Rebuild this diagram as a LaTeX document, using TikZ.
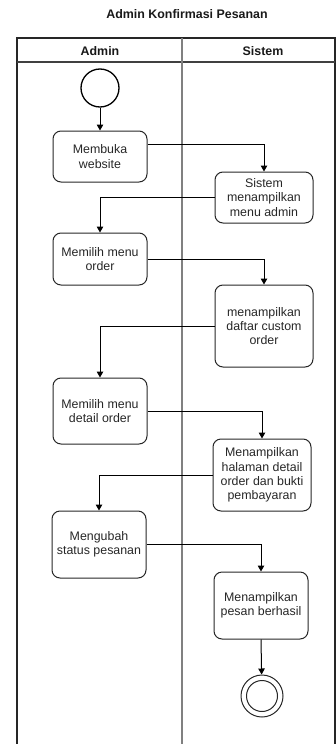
\documentclass[tikz,border=0pt]{standalone}
\usepackage{fontspec}
\setmainfont{Liberation Sans}
\usetikzlibrary{arrows.meta,calc}
\begin{document}
\begin{tikzpicture}[x=1pt,y=-1pt,
  txt/.style={font=\fontsize{12.4}{14.3}\selectfont, text=black!85},
  act/.style={txt, draw=black!85, line width=1pt, rounded corners=8pt,
    align=center, inner sep=0pt},
  flow/.style={draw=black, line width=1pt, -{Triangle[length=6pt,width=6.5pt]}},
  lane/.style={line width=1.3pt},
  hdr/.style={font=\bfseries\fontsize{12.4}{14}\selectfont, text=black!90}
]
\useasboundingbox (0,0) rectangle (336,744);

% title and swimlane frame
\node[hdr] (title) at (187,14) {Admin Konfirmasi Pesanan};
\draw[lane, draw=black!85] (17,760) -- (17,38) -- (335,38) -- (335,760);
\draw[lane, draw=black!75] (17,62) -- (335,62);
\draw[lane, draw=black!50] (182,38) -- (182,760);
\node[hdr] (laneA) at (100,51) {Admin};
\node[hdr] (laneS) at (263,51) {Sistem};

% start and end
\node[circle, draw=black, line width=1.3pt, minimum size=38pt, inner sep=0pt] (start) at (100,88) {};
\node[circle, draw=black!85, line width=1pt, minimum size=42pt, inner sep=0pt] (end) at (262,696) {};
\draw[black!85, line width=1pt] (end.center) circle[radius=15.5pt];

% activities
\node[act, minimum width=94pt, minimum height=51pt] (b1) at (100,156.5) {Membuka\\website};
\node[act, minimum width=98pt, minimum height=51pt] (b2) at (264,197.5) {Sistem\\menampilkan\\menu admin};
\node[act, minimum width=94pt, minimum height=52pt] (b3) at (100,259) {Memilih menu\\order};
\node[act, minimum width=98pt, minimum height=82pt] (b4) at (264,326) {menampilkan\\daftar custom\\order};
\node[act, minimum width=94pt, minimum height=66pt] (b5) at (100,411) {Memilih menu\\detail order};
\node[act, minimum width=98pt, minimum height=72pt] (b6) at (262,475) {Menampilkan\\halaman detail\\order dan bukti\\pembayaran};
\node[act, minimum width=94pt, minimum height=67pt] (b7) at (99,544.5) {Mengubah\\status pesanan};
\node[act, minimum width=94pt, minimum height=67pt] (b8) at (261,605.5) {Menampilkan\\pesan berhasil};

% control flow
\draw[flow] (start) -- (b1);
\draw[flow] ([yshift=12.5pt]b1.east) -| (b2.north);
\draw[flow] (b2.west) -| (b3.north);
\draw[flow] (b3.east) -| (b4.north);
\draw[flow] (b4.west) -| (b5.north);
\draw[flow] (b5.east) -| (b6.north);
\draw[flow] (b6.west) -| (b7.north);
\draw[flow] (b7.east) -| (b8.north);
\draw[flow] (b8.south) -- (end);
\end{tikzpicture}
\end{document}
